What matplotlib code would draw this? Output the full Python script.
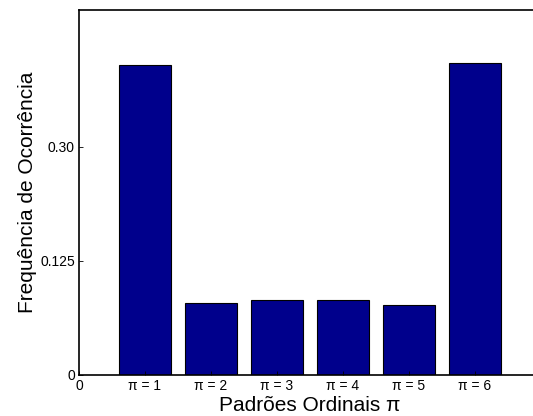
import matplotlib
matplotlib.use("Agg")
from matplotlib import pyplot as plt

# ordinal pattern frequencies
patterns = [1, 2, 3, 4, 5, 6]
freq = [0.340, 0.0786, 0.0822, 0.0822, 0.0768, 0.3418]
tick_labels = ["0", "π = 1", "π = 2", "π = 3", "π = 4", "π = 5", "π = 6"]
ytick_pos = [0, 0.125, 0.25]
ytick_labels = ["0", "0.125", "0.30"]

plt.rcParams["font.family"] = ["Liberation Sans", "DejaVu Sans"]

fig = plt.figure(figsize=(5.33, 4.16), dpi=100)
ax = fig.add_axes([79 / 533, 41 / 416, 462 / 533, 365 / 416])

ax.bar(patterns, freq, width=0.8, color="#00008c", edgecolor="black", linewidth=0.8)

ax.set_xlim(0, 7)
ax.set_ylim(0, 0.4)
ax.set_xticks([0] + patterns)
ax.set_xticklabels(tick_labels, fontsize=10)
ax.set_yticks(ytick_pos)
ax.set_yticklabels(ytick_labels, fontsize=10)
ax.tick_params(direction="in", length=3, width=0.6, pad=3)

for s in ax.spines.values():
    s.set_linewidth(1.2)

ax.set_xlabel("Padrões Ordinais π", fontsize=15, labelpad=2)
ax.set_ylabel("Frequência de Ocorrência", fontsize=15, labelpad=2)

fig.savefig("out.png", dpi=100)
